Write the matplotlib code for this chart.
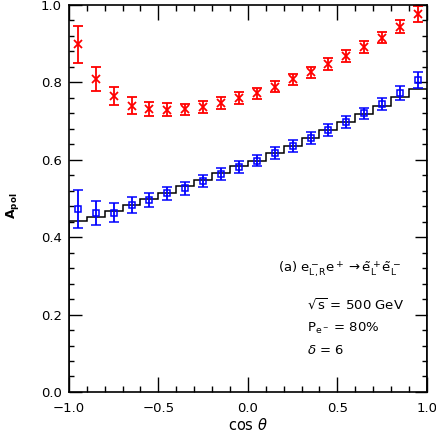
import matplotlib
matplotlib.use('Agg')
import matplotlib.pyplot as plt
from matplotlib.ticker import MultipleLocator
import numpy as np

# bin centres in cos(theta)
cos_c = [-0.95, -0.85, -0.75, -0.65, -0.55, -0.45, -0.35, -0.25, -0.15, -0.05,
         0.05, 0.15, 0.25, 0.35, 0.45, 0.55, 0.65, 0.75, 0.85, 0.95]

# red points (crosses)
red_y = [0.898, 0.810, 0.765, 0.740, 0.731, 0.729, 0.730, 0.737, 0.746, 0.759,
         0.772, 0.789, 0.808, 0.826, 0.847, 0.868, 0.891, 0.916, 0.944, 0.977]
red_err = [0.048, 0.031, 0.024, 0.021, 0.019, 0.017, 0.015, 0.015, 0.015, 0.015,
           0.014, 0.015, 0.015, 0.015, 0.015, 0.015, 0.015, 0.015, 0.016, 0.021]

# blue points (squares)
blue_y = [0.473, 0.463, 0.463, 0.483, 0.496, 0.513, 0.526, 0.545, 0.563, 0.581,
          0.598, 0.617, 0.636, 0.656, 0.677, 0.698, 0.720, 0.744, 0.772, 0.806]
blue_err = [0.049, 0.031, 0.025, 0.021, 0.019, 0.017, 0.016, 0.015, 0.015, 0.015,
            0.015, 0.015, 0.015, 0.015, 0.015, 0.015, 0.015, 0.016, 0.018, 0.021]

# black histogram (theory)
edges = [-1.0, -0.9, -0.8, -0.7, -0.6, -0.5, -0.4, -0.3, -0.2, -0.1, 0.0,
         0.1, 0.2, 0.3, 0.4, 0.5, 0.6, 0.7, 0.8, 0.9, 1.0]
hist_y = [0.442, 0.453, 0.468, 0.483, 0.498, 0.515, 0.532, 0.548, 0.565, 0.584,
          0.598, 0.618, 0.636, 0.657, 0.677, 0.697, 0.718, 0.740, 0.763, 0.782]

fig = plt.figure(figsize=(4.36, 4.36), dpi=100)
ax = fig.add_axes([0.158, 0.101, 0.821, 0.8875])

ax.stairs(hist_y, edges, color='black', linewidth=1.1)

ax.errorbar(cos_c, red_y, yerr=red_err, fmt='x', color='red', ms=5.5, mew=1.3,
            elinewidth=1.3, capsize=3.5, capthick=1.5)
ax.errorbar(cos_c, blue_y, yerr=blue_err, fmt='s', color='blue', mfc='none',
            ms=5, mew=1.1, elinewidth=1.3, capsize=3.5, capthick=1.5)

ax.set_xlim(-1, 1)
ax.set_ylim(0, 1)
ax.xaxis.set_major_locator(MultipleLocator(0.5))
ax.xaxis.set_minor_locator(MultipleLocator(0.1))
ax.yaxis.set_major_locator(MultipleLocator(0.2))
ax.yaxis.set_minor_locator(MultipleLocator(0.04))
ax.xaxis.set_major_formatter(lambda v, p: f'{v:.1f}'.replace('-', '\u2212'))
ax.yaxis.set_major_formatter(lambda v, p: f'{v:.1f}')

ax.tick_params(axis='x', which='both', direction='in', top=True, labelsize=9.5, pad=7)
ax.tick_params(axis='x', which='major', length=11, width=1)
ax.tick_params(axis='x', which='minor', length=4.5, width=1)
ax.tick_params(axis='y', which='both', direction='in', right=True, labelsize=9.5, pad=5)
ax.tick_params(axis='y', which='major', length=9, width=1)
ax.tick_params(axis='y', which='minor', length=3.5, width=1)
for s in ax.spines.values():
    s.set_linewidth(1.2)

ax.set_xlabel(r'cos $\theta$', fontsize=10.5, labelpad=2)
ax.set_ylabel(r'$\mathbf{A_{pol}}$', fontsize=9)
ax.yaxis.set_label_coords(-0.135, 0.48)

ax.text(0.17, 0.315, r'(a) $\mathregular{e^-_{L,R}e^+ \rightarrow \tilde{e}^+_L\tilde{e}^-_L}$',
        fontsize=9.5, va='center')
ax.text(0.33, 0.225, r'$\mathregular{\sqrt{s}}$ = 500 GeV', fontsize=9.5, va='center')
ax.text(0.33, 0.163, r'P$_{\mathregular{e^-}}$ = 80%', fontsize=9.5, va='center')
ax.text(0.33, 0.108, r'$\delta$ = 6', fontsize=9.5, va='center')

fig.savefig('out.png', dpi=100)
